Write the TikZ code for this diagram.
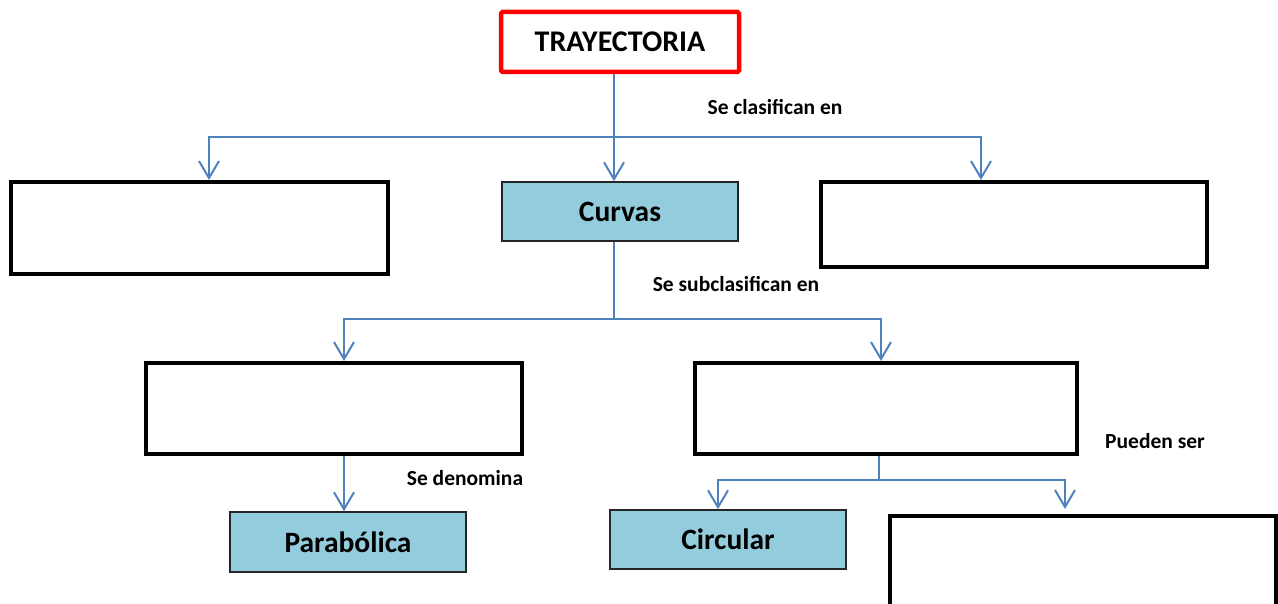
\documentclass[tikz,border=0pt]{standalone}
\usepackage{fontspec}
\setmainfont{Carlito}
\usetikzlibrary{arrows.meta,calc}
\definecolor{conncol}{HTML}{4F81BD}
\definecolor{boxfill}{HTML}{93CDDD}
\tikzset{
  emptybox/.style={draw=black,line width=4pt,rectangle,inner sep=0pt},
  bluebox/.style={draw=black!85,fill=boxfill,line width=1.5pt,rectangle,inner sep=0pt,
    font=\fontsize{29.5}{34}\selectfont\bfseries},
  titlebox/.style={draw=red,line width=4.5pt,rectangle,rounded corners=1.5pt,inner sep=0pt,
    font=\fontsize{30}{34}\selectfont\bfseries},
  conn/.style={draw=conncol,line width=2pt},
  arr/.style={conn,-{Straight Barb[length=17pt,width=20pt,line width=2pt]}},
  lbl/.style={font=\fontsize{21.5}{24}\selectfont\bfseries,inner sep=0pt}
}
\begin{document}
\begin{tikzpicture}[x=1pt,y=-1pt]
\useasboundingbox (0,0) rectangle (1278,604);
\node[titlebox,minimum width=238pt,minimum height=60pt] (t) at (620,42) {TRAYECTORIA};
\node[emptybox,minimum width=377pt,minimum height=92pt] (l1) at (199.5,228) {};
\node[bluebox,minimum width=236pt,minimum height=59pt] (curv) at (620,211.5) {Curvas};
\node[emptybox,minimum width=386pt,minimum height=85pt] (r1) at (1014,224.5) {};
\node[emptybox,minimum width=376pt,minimum height=91pt] (l2) at (334,408.5) {};
\node[emptybox,minimum width=382pt,minimum height=91pt] (r2) at (886,408.5) {};
\node[bluebox,minimum width=236pt,minimum height=60pt] (para) at (348,542) {Parabólica};
\node[bluebox,minimum width=236pt,minimum height=59pt] (circ) at (728,539.5) {Circular};
\node[emptybox,minimum width=386pt,minimum height=110pt] (last) at (1083,571) {};

\node[lbl] (lab1) at (775,107) {Se clasifican en};
\node[lbl] (lab2) at (736,284) {Se subclasifican en};
\node[lbl] (lab3) at (465,478) {Se denomina};
\node[lbl] (lab4) at (1155,441) {Pueden ser};

\coordinate (b1) at (614,137);
\draw[conn] ([xshift=-6pt]t.south) -- (b1);
\draw[arr] (b1) -| ([xshift=9.5pt]l1.north);
\draw[arr] (b1) -- (curv.north -| b1);
\draw[arr] (b1) -| ([xshift=-33pt]r1.north);

\coordinate (b2) at (614,319);
\draw[conn] ([xshift=-6pt]curv.south) -- (b2);
\draw[arr] (b2) -| ([xshift=10pt]l2.north);
\draw[arr] (b2) -| ([xshift=-5pt]r2.north);

\draw[arr] ([xshift=10pt]l2.south) -- ([xshift=-4pt]para.north);

\coordinate (b3) at (879,480);
\draw[conn] ([xshift=-7pt]r2.south) -- (b3);
\draw[arr] (b3) -| ([xshift=-10pt]circ.north);
\draw[arr,shorten >=5pt] (b3) -| ([xshift=-18pt]last.north);
\end{tikzpicture}
\end{document}
